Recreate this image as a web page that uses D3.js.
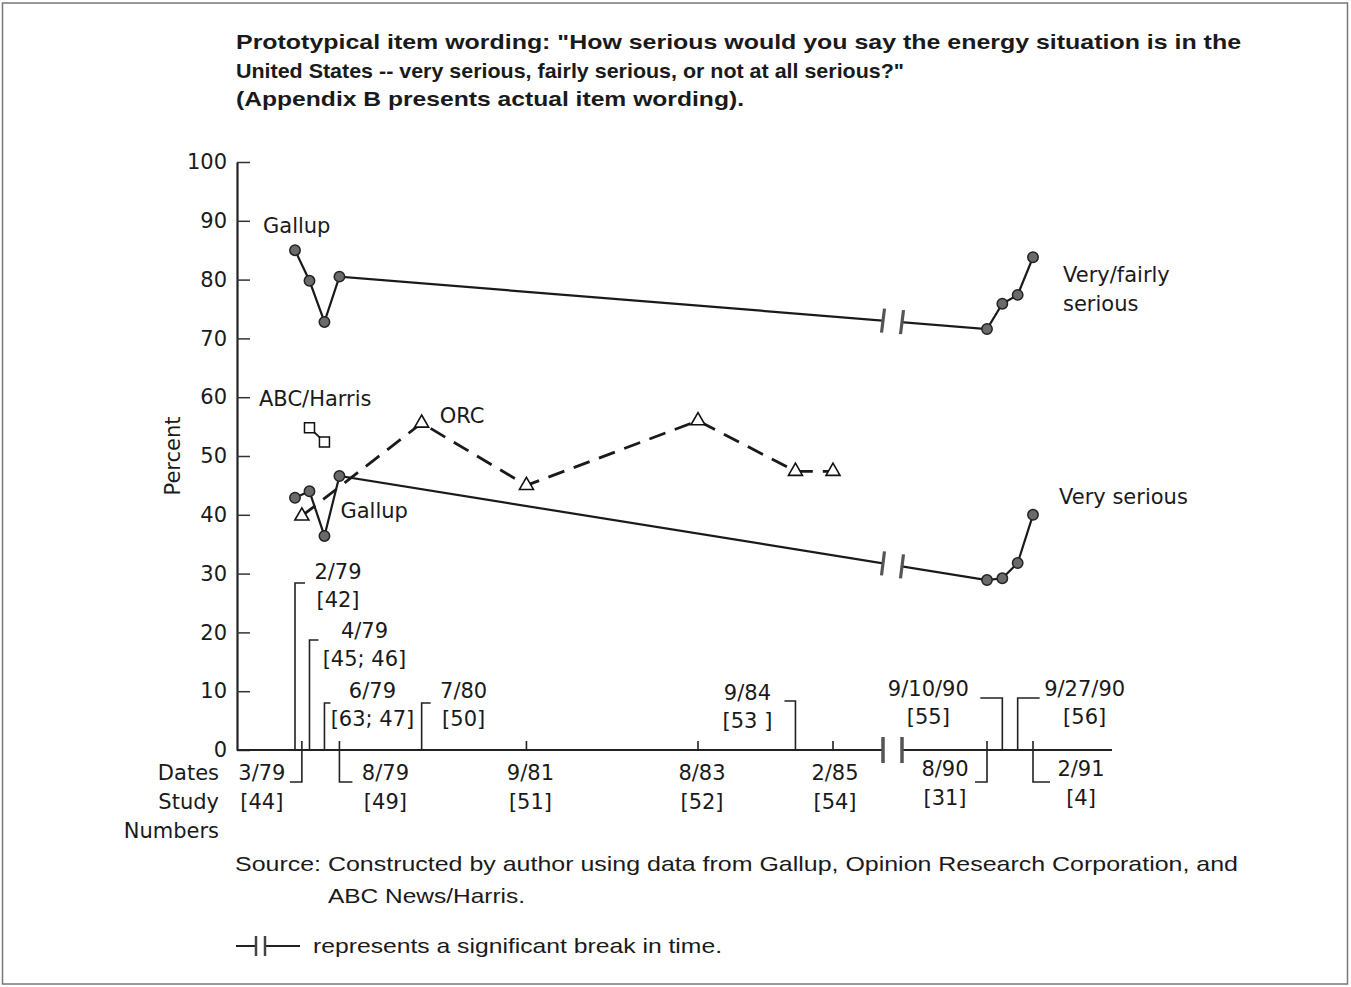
<!DOCTYPE html>
<html>
<head>
<meta charset="utf-8">
<script src="https://cdn.jsdelivr.net/npm/d3@7"></script>
<style>
  body { margin: 0; background: #fff; }
  svg text { font-family: "DejaVu Sans", sans-serif; fill: #1a1a1a; }
</style>
</head>
<body>
<div id="chart"></div>
<script>
// ---- data ----
const yTicks = [0, 10, 20, 30, 40, 50, 60, 70, 80, 90, 100];

const gallupDates = ["2/79", "4/79", "6/79", "8/79", "8/90", "9/10/90", "9/27/90", "2/91"];
const veryFairly  = [85, 79.8, 72.8, 80.5, 71.6, 75.9, 77.4, 83.8];
const verySerious = [42.9, 44, 36.4, 46.6, 28.9, 29.2, 31.8, 40];

const abcDates  = ["4/79", "6/79"];
const abcHarris = [54.8, 52.4];

const orcDates = ["3/79", "7/80", "9/81", "8/83", "9/84", "2/85"];
const orc      = [39.8, 55.6, 45, 56, 47.4, 47.4];

const studyDates   = ["2/79", "3/79", "4/79", "6/79", "8/79", "7/80", "9/81", "8/83", "9/84", "2/85", "8/90", "9/10/90", "9/27/90", "2/91"];
const studyNumbers = ["[42]", "[44]", "[45; 46]", "[63; 47]", "[49]", "[50]", "[51]", "[52]", "[53 ]", "[54]", "[31]", "[55]", "[56]", "[4]"];

// dates after the break are spaced evenly, not by time
const lateDates = ["8/90", "9/10/90", "9/27/90", "2/91"];

const titleLines = [
  "Prototypical item wording: \"How serious would you say the energy situation is in the",
  "United States -- very serious, fairly serious, or not at all serious?\"",
  "(Appendix B presents actual item wording)."
];
const sourceLines = [
  "Source: Constructed by author using data from Gallup, Opinion Research Corporation, and",
  "ABC News/Harris."
];

// ---- layout ----
const W = 1351, H = 987;
const plot = { left: 237, right: 1112, top: 162, bottom: 750 };
const brk = [883, 902];   // pixel position of the time break

// how each date/study label hangs off the axis
const labelLayout = {
  "2/79":    { side: "up",   hook: 1,  top: 167, ty: 171, dx: 43,  len: 10 },
  "4/79":    { side: "up",   hook: 1,  top: 110, ty: 112, dx: 55,  len: 9 },
  "6/79":    { side: "up",   hook: 1,  top: 47,  ty: 52,  dx: 48,  len: 6 },
  "7/80":    { side: "up",   hook: 1,  top: 47,  ty: 52,  dx: 42,  len: 9 },
  "9/84":    { side: "up",   hook: -1, top: 49,  ty: 50,  dx: -48, len: 11 },
  "9/10/90": { side: "up",   hook: -1, top: 52,  ty: 54,  dx: -74, len: 22 },
  "9/27/90": { side: "up",   hook: 1,  top: 52,  ty: 54,  dx: 67,  len: 22 },
  "3/79":    { side: "down", hook: -1, dx: -40, len: 12 },
  "8/79":    { side: "down", hook: 1,  dx: 46,  len: 13 },
  "9/81":    { side: "tick", dx: 4 },
  "8/83":    { side: "tick", dx: 4 },
  "2/85":    { side: "tick", dx: 2 },
  "8/90":    { side: "down", hook: -1, dx: -42, len: 12 },
  "2/91":    { side: "down", hook: 1,  dx: 48,  len: 17 }
};

const svg = d3.select("#chart").append("svg")
  .attr("width", W)
  .attr("height", H);

// page frame
svg.append("rect")
  .attr("x", 2.5).attr("y", 3)
  .attr("width", 1345).attr("height", 981)
  .attr("fill", "none")
  .attr("stroke", "#777")
  .attr("stroke-width", 1.5);

// ---- scales ----
function parseDate(s) {
  const p = s.split("/").map(Number);
  if (p.length === 3) return new Date(1900 + p[2], p[0] - 1, p[1]);
  return new Date(1900 + p[1], p[0] - 1, 15);
}

const xEarly = d3.scaleTime()
  .domain([parseDate("2/79"), parseDate("2/85")])
  .range([295, 833]);

const xLate = d3.scalePoint()
  .domain(lateDates)
  .range([987, 1033]);

const x = d => lateDates.includes(d) ? xLate(d) : xEarly(parseDate(d));

const y = d3.scaleLinear()
  .domain([0, 100])
  .range([plot.bottom, plot.top]);

// ---- title ----
svg.append("g").selectAll("text")
  .data(titleLines)
  .join("text")
  .attr("x", 236)
  .attr("y", (d, i) => 49 + i * 28.5)
  .attr("textLength", (d, i) => [1005, 668, 508][i])
  .attr("lengthAdjust", "spacingAndGlyphs")
  .style("font-family", "'Liberation Sans', Arial, sans-serif")
  .style("font-weight", "bold")
  .style("font-size", "21px")
  .text(d => d);

// ---- y axis ----
const yAxis = d3.axisLeft(y)
  .tickValues(yTicks)
  .tickSizeInner(-13)
  .tickSizeOuter(0)
  .tickPadding(10);

const gy = svg.append("g")
  .attr("transform", `translate(${plot.left},0)`)
  .call(yAxis);
gy.select(".domain").attr("stroke", "#222").attr("stroke-width", 2.2);
gy.selectAll(".tick line").attr("stroke", "#333").attr("stroke-width", 1.5);
gy.selectAll(".tick text")
  .style("font-family", "'DejaVu Sans', sans-serif")
  .style("font-size", "21px")
  .attr("fill", "#1a1a1a");

svg.append("text")
  .attr("transform", `translate(180,${y(50)}) rotate(-90)`)
  .attr("text-anchor", "middle")
  .style("font-size", "21px")
  .text("Percent");

// ---- x axis (broken) ----
const axisY = y(0);
const xAxisG = svg.append("g");
[[plot.left, brk[0]], [brk[1], plot.right]].forEach(seg => {
  xAxisG.append("line")
    .attr("x1", seg[0]).attr("x2", seg[1])
    .attr("y1", axisY).attr("y2", axisY)
    .attr("stroke", "#222").attr("stroke-width", 2.2);
});
brk.forEach(bx => {
  xAxisG.append("line")
    .attr("x1", bx).attr("x2", bx)
    .attr("y1", axisY - 13).attr("y2", axisY + 13)
    .attr("stroke", "#555").attr("stroke-width", 3.5);
});

// date / study-number labels with their brackets
const dateG = svg.append("g");
studyDates.forEach((d, i) => {
  const L = labelLayout[d];
  const px = x(d);
  let l1, l2;
  if (L.side === "up") {
    const top = axisY - L.top;
    dateG.append("path")
      .attr("d", `M${px},${axisY}V${top}H${px + L.hook * L.len}`)
      .attr("fill", "none").attr("stroke", "#222").attr("stroke-width", 1.6);
    l1 = axisY - L.ty;
    l2 = l1 + 28;
  } else if (L.side === "down") {
    dateG.append("path")
      .attr("d", `M${px},${axisY - 9}V${axisY + 32}H${px + L.hook * L.len}`)
      .attr("fill", "none").attr("stroke", "#222").attr("stroke-width", 1.6);
    l1 = axisY + (px > brk[0] ? 26 : 30);
    l2 = l1 + 29;
  } else {
    dateG.append("line")
      .attr("x1", px).attr("x2", px)
      .attr("y1", axisY).attr("y2", axisY - 9)
      .attr("stroke", "#222").attr("stroke-width", 1.6);
    l1 = axisY + 30;
    l2 = l1 + 29;
  }
  dateG.append("text")
    .attr("x", px + L.dx).attr("y", l1)
    .attr("text-anchor", "middle")
    .style("font-size", "21px")
    .text(d);
  dateG.append("text")
    .attr("x", px + L.dx).attr("y", l2)
    .attr("text-anchor", "middle")
    .style("font-size", "21px")
    .text(studyNumbers[i]);
});

// row captions left of the axis
svg.append("g").selectAll("text")
  .data(["Dates", "Study", "Numbers"])
  .join("text")
  .attr("x", 219)
  .attr("y", (d, i) => 780 + i * 29)
  .attr("text-anchor", "end")
  .style("font-size", "21px")
  .text(d => d);

// ---- series ----
const clip = svg.append("defs").append("clipPath").attr("id", "gap");
clip.append("rect").attr("x", 0).attr("y", 0).attr("width", brk[0]).attr("height", H);
clip.append("rect").attr("x", brk[1]).attr("y", 0).attr("width", W - brk[1]).attr("height", H);

const line = d3.line().x(d => x(d.date)).y(d => y(d.value));

const vfData = gallupDates.map((d, i) => ({ date: d, value: veryFairly[i] }));
const vsData = gallupDates.map((d, i) => ({ date: d, value: verySerious[i] }));
const abcData = abcDates.map((d, i) => ({ date: d, value: abcHarris[i] }));
const orcData = orcDates.map((d, i) => ({ date: d, value: orc[i] }));

const lines = svg.append("g");

[vfData, vsData].forEach(series => {
  lines.append("path")
    .datum(series)
    .attr("clip-path", "url(#gap)")
    .attr("d", line)
    .attr("fill", "none")
    .attr("stroke", "#1a1a1a")
    .attr("stroke-width", 2.2);

  // break marks where the line crosses the gap
  const a = series[3], b = series[4];
  const ya = d3.scaleLinear().domain([x(a.date), x(b.date)]).range([y(a.value), y(b.value)]);
  brk.forEach(bx => {
    lines.append("line")
      .attr("x1", bx - 1.5).attr("x2", bx + 1.5)
      .attr("y1", ya(bx) + 12).attr("y2", ya(bx) - 12)
      .attr("stroke", "#555").attr("stroke-width", 3.2);
  });
});

lines.append("path")
  .datum(abcData)
  .attr("d", line)
  .attr("fill", "none")
  .attr("stroke", "#1a1a1a")
  .attr("stroke-width", 1.8);

lines.append("path")
  .datum(orcData)
  .attr("d", line)
  .attr("fill", "none")
  .attr("stroke", "#1a1a1a")
  .attr("stroke-width", 2.8)
  .attr("stroke-dasharray", "17,10");

// markers
const marks = svg.append("g");
marks.selectAll(".gallup")
  .data(vfData.concat(vsData))
  .join("circle")
  .attr("class", "gallup")
  .attr("cx", d => x(d.date))
  .attr("cy", d => y(d.value))
  .attr("r", 5.2)
  .attr("fill", "#6a6a6a")
  .attr("stroke", "#222")
  .attr("stroke-width", 1.5);

marks.selectAll(".abc")
  .data(abcData)
  .join("path")
  .attr("class", "abc")
  .attr("transform", d => `translate(${x(d.date)},${y(d.value)})`)
  .attr("d", d3.symbol(d3.symbolSquare, 100))
  .attr("fill", "#fff")
  .attr("stroke", "#111")
  .attr("stroke-width", 1.5);

marks.selectAll(".orc")
  .data(orcData)
  .join("path")
  .attr("class", "orc")
  .attr("transform", d => `translate(${x(d.date)},${y(d.value)})`)
  .attr("d", d3.symbol(d3.symbolTriangle, 85))
  .attr("fill", "#fff")
  .attr("stroke", "#111")
  .attr("stroke-width", 1.6);

// ---- series labels ----
const seriesLabels = [
  { text: "Gallup",       date: "2/79", dx: -32, value: 88 },
  { text: "ABC/Harris",   date: "2/79", dx: -36, value: 58.5 },
  { text: "ORC",          date: "7/80", dx: 18,  value: 55.6 },
  { text: "Gallup",       date: "8/79", dx: 1,   value: 39.5 },
  { text: "Very/fairly",  date: "2/91", dx: 30,  value: 79.6 },
  { text: "serious",      date: "2/91", dx: 30,  value: 74.6 },
  { text: "Very serious", date: "2/91", dx: 26,  value: 41.8 }
];
svg.append("g").selectAll("text")
  .data(seriesLabels)
  .join("text")
  .attr("x", d => x(d.date) + d.dx)
  .attr("y", d => y(d.value))
  .style("font-size", "21px")
  .text(d => d.text);

// ---- source + legend ----
svg.append("g").selectAll("text")
  .data(sourceLines)
  .join("text")
  .attr("x", (d, i) => i === 0 ? 235 : 328)
  .attr("y", (d, i) => 871 + i * 32)
  .attr("textLength", (d, i) => [1003, 197][i])
  .attr("lengthAdjust", "spacingAndGlyphs")
  .style("font-family", "'Liberation Sans', Arial, sans-serif")
  .style("font-size", "21px")
  .text(d => d);

const leg = svg.append("g").attr("transform", "translate(0,946)");
leg.append("line").attr("x1", 236).attr("x2", 255).attr("y1", 0).attr("y2", 0)
  .attr("stroke", "#222").attr("stroke-width", 2);
leg.append("line").attr("x1", 266).attr("x2", 300).attr("y1", 0).attr("y2", 0)
  .attr("stroke", "#222").attr("stroke-width", 2);
[256, 265].forEach(bx => {
  leg.append("line").attr("x1", bx).attr("x2", bx).attr("y1", -10).attr("y2", 10)
    .attr("stroke", "#444").attr("stroke-width", 2.5);
});
leg.append("text")
  .attr("x", 313).attr("y", 7)
  .attr("textLength", 409)
  .attr("lengthAdjust", "spacingAndGlyphs")
  .style("font-family", "'Liberation Sans', Arial, sans-serif")
  .style("font-size", "21px")
  .text("represents a significant break in time.");
</script>
</body>
</html>
